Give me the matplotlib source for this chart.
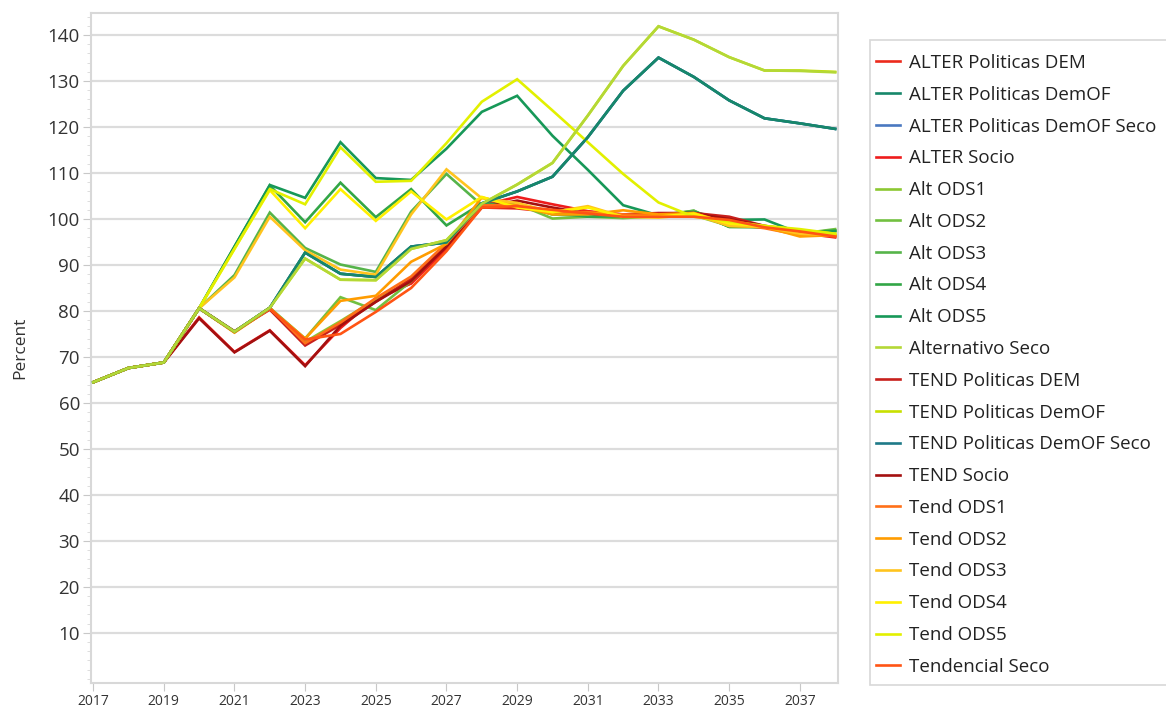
import matplotlib
matplotlib.use("Agg")
import matplotlib.pyplot as plt
from matplotlib.ticker import MultipleLocator
from matplotlib.patches import Rectangle

years = list(range(2017, 2039))
start = [64.5, 67.6, 68.8]

alter_pol_dem = start + [80.6, 75.4, 80.5, 72.7, 77.5, 82.5, 86.0, 94.0, 102.5, 102.3, 101.5, 101.0, 100.6, 100.8, 100.8, 100.3, 98.3, 97.0, 96.3]
alter_pol_demof = start + [80.6, 75.5, 80.7, 92.7, 88.1, 87.4, 94.0, 94.9, 103.4, 106.0, 109.2, 117.8, 127.9, 135.1, 130.9, 125.8, 121.9, 120.8, 119.6]
alter_pol_demof_seco = start + [80.6, 75.5, 80.7, 92.7, 88.1, 87.4, 94.0, 94.9, 103.4, 106.0, 109.2, 117.8, 127.9, 135.1, 130.9, 125.8, 121.9, 120.8, 119.6]
alter_socio = start + [78.6, 71.1, 75.8, 68.2, 76.3, 82.8, 86.0, 93.5, 103.0, 104.8, 103.2, 101.7, 101.0, 100.8, 100.8, 100.2, 98.3, 97.0, 96.0]
alt_ods1 = start + [80.6, 75.5, 80.6, 73.3, 77.8, 82.5, 86.5, 94.2, 102.6, 103.2, 101.0, 101.0, 100.5, 100.5, 100.8, 98.5, 98.2, 97.0, 97.5]
alt_ods2 = start + [80.6, 75.5, 80.7, 74.0, 83.0, 80.2, 86.5, 94.5, 102.8, 103.3, 100.1, 100.5, 100.2, 100.6, 101.8, 98.3, 98.3, 96.8, 97.8]
alt_ods3 = start + [80.6, 87.8, 101.4, 93.7, 90.1, 88.5, 101.6, 109.8, 103.0, 103.3, 101.0, 100.6, 100.5, 100.8, 101.8, 98.3, 98.2, 96.9, 97.4]
alt_ods4 = start + [80.6, 94.0, 107.3, 99.3, 107.9, 100.4, 106.5, 98.6, 103.4, 103.0, 101.5, 100.5, 100.6, 101.0, 101.5, 98.3, 98.3, 97.0, 97.5]
alt_ods5 = start + [80.6, 94.0, 107.4, 104.6, 116.7, 108.9, 108.5, 115.3, 123.3, 126.8, 118.1, 110.7, 103.0, 100.8, 101.5, 99.8, 99.9, 96.9, 97.3]
alternativo_seco = start + [80.6, 75.5, 80.7, 91.4, 86.8, 86.7, 93.5, 95.4, 103.3, 107.5, 112.2, 122.5, 133.3, 141.9, 139.0, 135.2, 132.3, 132.2, 131.9]
tend_pol_dem = start + [80.6, 75.6, 80.3, 72.5, 77.0, 82.0, 87.0, 94.5, 102.8, 102.5, 101.8, 101.2, 101.0, 101.3, 101.3, 100.5, 98.5, 97.2, 96.5]
tend_pol_demof = start + [80.6, 75.5, 80.7, 91.4, 86.8, 86.7, 93.5, 95.4, 103.3, 107.5, 112.2, 122.5, 133.3, 141.9, 139.0, 135.2, 132.3, 132.3, 132.0]
tend_pol_demof_seco = start + [80.6, 75.5, 80.7, 92.7, 88.1, 87.4, 94.0, 94.9, 103.4, 106.0, 109.2, 117.8, 127.9, 135.1, 130.9, 125.8, 121.9, 120.8, 119.6]
tend_socio = start + [78.4, 71.0, 75.7, 68.0, 76.8, 82.0, 86.5, 94.0, 102.5, 104.0, 102.5, 101.2, 100.8, 101.0, 101.2, 100.0, 98.5, 97.5, 96.5]
tend_ods1 = start + [80.6, 75.4, 80.7, 73.0, 77.5, 82.8, 87.5, 94.8, 103.0, 103.0, 101.5, 101.5, 101.0, 100.8, 101.3, 99.0, 98.0, 96.5, 96.3]
tend_ods2 = start + [80.6, 75.3, 80.5, 74.0, 82.2, 83.3, 90.7, 94.6, 104.7, 102.8, 101.0, 101.0, 101.9, 101.0, 101.3, 98.5, 98.3, 96.2, 96.5]
tend_ods3 = start + [80.6, 87.3, 100.5, 93.2, 89.0, 87.9, 101.0, 110.8, 104.5, 103.5, 101.5, 102.8, 100.5, 100.3, 101.0, 98.5, 98.3, 96.8, 96.5]
tend_ods4 = start + [80.6, 93.5, 106.3, 98.0, 106.5, 99.6, 106.0, 99.9, 104.8, 102.5, 101.5, 102.5, 100.5, 100.5, 101.2, 99.0, 98.5, 97.6, 96.8]
tend_ods5 = start + [80.6, 93.5, 106.5, 103.2, 115.6, 108.1, 108.3, 116.5, 125.5, 130.4, 123.6, 116.7, 109.8, 103.6, 100.5, 99.5, 98.5, 97.8, 96.8]
tendencial_seco = start + [80.6, 75.5, 80.5, 73.8, 75.0, 79.8, 85.0, 93.0, 102.5, 102.8, 102.0, 101.2, 100.5, 100.5, 100.5, 99.8, 98.2, 97.3, 96.2]

series = [
    ("ALTER Politicas DEM", alter_pol_dem, "#ec2a1c"),
    ("ALTER Politicas DemOF", alter_pol_demof, "#17876a"),
    ("ALTER Politicas DemOF Seco", alter_pol_demof_seco, "#4a78c0"),
    ("ALTER Socio", alter_socio, "#ee1c1c"),
    ("Alt ODS1", alt_ods1, "#8cc832"),
    ("Alt ODS2", alt_ods2, "#72c040"),
    ("Alt ODS3", alt_ods3, "#56b44a"),
    ("Alt ODS4", alt_ods4, "#32a646"),
    ("Alt ODS5", alt_ods5, "#179858"),
    ("Alternativo Seco", alternativo_seco, "#b4d836"),
    ("TEND Politicas DEM", tend_pol_dem, "#c8201c"),
    ("TEND Politicas DemOF", tend_pol_demof, "#c8e000"),
    ("TEND Politicas DemOF Seco", tend_pol_demof_seco, "#1e7a88"),
    ("TEND Socio", tend_socio, "#a41010"),
    ("Tend ODS1", tend_ods1, "#ff7018"),
    ("Tend ODS2", tend_ods2, "#ff9c00"),
    ("Tend ODS3", tend_ods3, "#ffc41e"),
    ("Tend ODS4", tend_ods4, "#fff000"),
    ("Tend ODS5", tend_ods5, "#e2f000"),
    ("Tendencial Seco", tendencial_seco, "#ff5414"),
]
# lines that sit on top where series overlap
on_top = {"ALTER Politicas DemOF": 3.0, "Alternativo Seco": 3.0}

plt.rcParams['font.family'] = ['Open Sans', 'DejaVu Sans']

W, H = 1166, 711
fig = plt.figure(figsize=(W / 100, H / 100), dpi=100)
ax = fig.add_axes([91 / W, 1 - 683 / H, (838 - 91) / W, (683 - 13) / H])

for name, vals, col in series:
    ax.plot(years, vals, color=col, lw=1.9, label=name, solid_joinstyle='miter',
            zorder=on_top.get(name, 2.0))

ax.set_xlim(2016.94, 2038.08)
ax.set_ylim(-0.9, 144.8)
ax.set_xticks(list(range(2017, 2038, 2)))
ax.yaxis.set_minor_locator(MultipleLocator(2))
ax.set_yticks([v for v in range(10, 141, 10)])
ax.grid(axis='y', which='major', color='#dcdcdc', lw=1.6)
ax.set_axisbelow(True)
for s in ax.spines.values():
    s.set_color('#d8d8d8')
    s.set_linewidth(1.5)
ax.tick_params(axis='y', which='major', length=6, color='#c8c8c8', labelsize=13.5, labelcolor='#333333', pad=2)
ax.tick_params(axis='y', which='minor', length=3, color='#d8d8d8')
ax.tick_params(axis='x', which='major', length=6, color='#c8c8c8', labelsize=10, labelcolor='#333333', pad=2)
ax.set_ylabel("Percent", fontsize=12.5, color='#333333', labelpad=14)

# legend frame drawn separately so the padding can match the reference
fig.patches.append(Rectangle((870 / W, 1 - 685 / H), 320 / W, (685 - 40) / H,
                             transform=fig.transFigure, facecolor='white',
                             edgecolor='#d8d8d8', lw=1.2, zorder=0))

handles, labels = ax.get_legend_handles_labels()
leg = fig.legend(handles, labels, loc='upper left', bbox_to_anchor=(876 / W, 1 - 54 / H),
                 frameon=False, fontsize=13.5, handlelength=1.3,
                 handletextpad=0.45, labelspacing=0.735, borderpad=0, borderaxespad=0)
for t in leg.get_texts():
    t.set_color('#222222')

fig.savefig("out.png", dpi=100)
